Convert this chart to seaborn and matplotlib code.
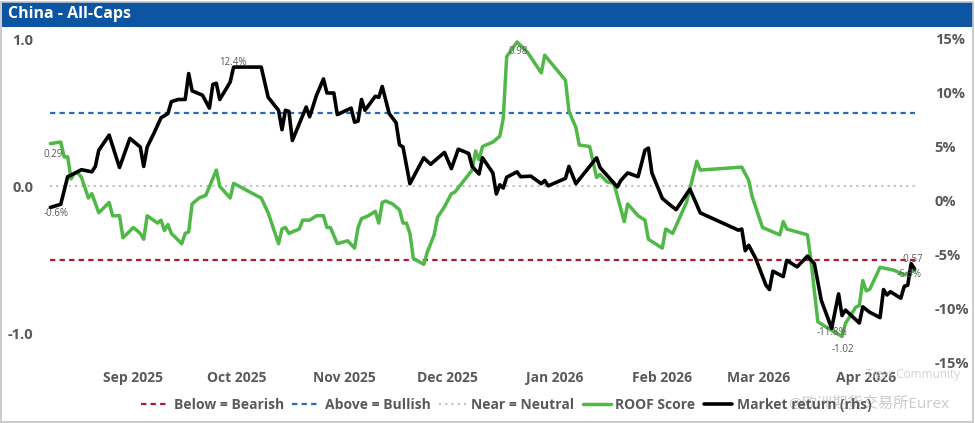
import pandas as pd
import seaborn as sns
import matplotlib.pyplot as plt
import matplotlib.dates as mdates
from matplotlib.patches import Rectangle
from matplotlib.ticker import FuncFormatter

# ROOF score (left axis)
score_dates = ['2025-08-08', '2025-08-11', '2025-08-12', '2025-08-13', '2025-08-14', '2025-08-15',
               '2025-08-16', '2025-08-17', '2025-08-19', '2025-08-20', '2025-08-22', '2025-08-25',
               '2025-08-26', '2025-08-28', '2025-08-29', '2025-09-01', '2025-09-03', '2025-09-04',
               '2025-09-05', '2025-09-08', '2025-09-09', '2025-09-10', '2025-09-11', '2025-09-12',
               '2025-09-15', '2025-09-16', '2025-09-17', '2025-09-18', '2025-09-20', '2025-09-22',
               '2025-09-25', '2025-09-26', '2025-09-29', '2025-09-30', '2025-10-08', '2025-10-10',
               '2025-10-13', '2025-10-14', '2025-10-15', '2025-10-16', '2025-10-19', '2025-10-20',
               '2025-10-22', '2025-10-24', '2025-10-26', '2025-10-27', '2025-10-28', '2025-10-30',
               '2025-11-02', '2025-11-04', '2025-11-05', '2025-11-06', '2025-11-08', '2025-11-10',
               '2025-11-11', '2025-11-12', '2025-11-13', '2025-11-15', '2025-11-17', '2025-11-18',
               '2025-11-19', '2025-11-20', '2025-11-21', '2025-11-24', '2025-11-25', '2025-11-27',
               '2025-11-28', '2025-11-30', '2025-12-02', '2025-12-03', '2025-12-05', '2025-12-08',
               '2025-12-09', '2025-12-10', '2025-12-11', '2025-12-14', '2025-12-16', '2025-12-17',
               '2025-12-18', '2025-12-21', '2025-12-24', '2025-12-28', '2025-12-29', '2026-01-04',
               '2026-01-05', '2026-01-07', '2026-01-08', '2026-01-11', '2026-01-13', '2026-01-14',
               '2026-01-16', '2026-01-18', '2026-01-21', '2026-01-22', '2026-01-25', '2026-01-27',
               '2026-01-28', '2026-02-01', '2026-02-02', '2026-02-04', '2026-02-08', '2026-02-11',
               '2026-02-12', '2026-02-24', '2026-02-26', '2026-02-27', '2026-03-02', '2026-03-07',
               '2026-03-08', '2026-03-09', '2026-03-15', '2026-03-16', '2026-03-18', '2026-03-20',
               '2026-03-25', '2026-03-26', '2026-03-29', '2026-03-30', '2026-03-31', '2026-04-01',
               '2026-04-02', '2026-04-05', '2026-04-09', '2026-04-12', '2026-04-15']
score_values = [0.29, 0.30, 0.20, 0.20, 0.05, 0.09,
                0.09, 0.06, -0.08, -0.05, -0.18, -0.11,
                -0.20, -0.20, -0.35, -0.28, -0.32, -0.36,
                -0.20, -0.25, -0.23, -0.30, -0.26, -0.32,
                -0.39, -0.32, -0.31, -0.12, -0.08, -0.06,
                0.11, 0.00, -0.08, 0.02, -0.08, -0.18,
                -0.39, -0.29, -0.28, -0.32, -0.29, -0.23,
                -0.23, -0.20, -0.20, -0.28, -0.28, -0.39,
                -0.37, -0.42, -0.28, -0.22, -0.20, -0.17,
                -0.25, -0.11, -0.10, -0.12, -0.16, -0.25,
                -0.25, -0.32, -0.49, -0.53, -0.45, -0.33,
                -0.21, -0.14, -0.05, -0.04, 0.02, 0.11,
                0.24, 0.18, 0.27, 0.30, 0.34, 0.46,
                0.88, 0.98, 0.91, 0.77, 0.89, 0.72,
                0.51, 0.40, 0.28, 0.27, 0.06, 0.08,
                0.03, 0.02, -0.24, -0.12, -0.20, -0.23,
                -0.36, -0.42, -0.29, -0.32, -0.11, 0.17,
                0.11, 0.13, 0.04, -0.07, -0.28, -0.33,
                -0.24, -0.29, -0.33, -0.50, -0.92, -0.95,
                -1.02, -0.93, -0.82, -0.81, -0.64, -0.71,
                -0.70, -0.55, -0.57, -0.60, -0.57]

# market return in % (right axis)
market_dates = ['2025-08-08', '2025-08-11', '2025-08-13', '2025-08-14', '2025-08-17', '2025-08-20',
                '2025-08-21', '2025-08-22', '2025-08-25', '2025-08-28', '2025-08-31', '2025-09-03',
                '2025-09-04', '2025-09-05', '2025-09-07', '2025-09-09', '2025-09-11', '2025-09-12',
                '2025-09-14', '2025-09-16', '2025-09-17', '2025-09-18', '2025-09-21', '2025-09-23',
                '2025-09-24', '2025-09-25', '2025-09-26', '2025-09-29', '2025-09-30', '2025-10-08',
                '2025-10-10', '2025-10-13', '2025-10-14', '2025-10-15', '2025-10-16', '2025-10-17',
                '2025-10-21', '2025-10-22', '2025-10-24', '2025-10-26', '2025-10-27', '2025-10-29',
                '2025-10-30', '2025-11-03', '2025-11-04', '2025-11-05', '2025-11-06', '2025-11-07',
                '2025-11-10', '2025-11-11', '2025-11-12', '2025-11-14', '2025-11-16', '2025-11-17',
                '2025-11-18', '2025-11-20', '2025-11-24', '2025-11-26', '2025-11-30', '2025-12-02',
                '2025-12-04', '2025-12-07', '2025-12-08', '2025-12-10', '2025-12-11', '2025-12-14',
                '2025-12-15', '2025-12-16', '2025-12-17', '2025-12-18', '2025-12-21', '2025-12-22',
                '2025-12-25', '2025-12-28', '2025-12-29', '2025-12-30', '2026-01-04', '2026-01-05',
                '2026-01-07', '2026-01-13', '2026-01-14', '2026-01-19', '2026-01-20', '2026-01-22',
                '2026-01-25', '2026-01-27', '2026-01-28', '2026-01-29', '2026-02-01', '2026-02-03',
                '2026-02-05', '2026-02-09', '2026-02-12', '2026-02-23', '2026-02-24', '2026-02-25',
                '2026-02-26', '2026-02-28', '2026-03-03', '2026-03-04', '2026-03-05', '2026-03-08',
                '2026-03-09', '2026-03-12', '2026-03-15', '2026-03-17', '2026-03-19', '2026-03-22',
                '2026-03-24', '2026-03-25', '2026-03-26', '2026-03-30', '2026-03-31', '2026-04-02',
                '2026-04-05', '2026-04-06', '2026-04-07', '2026-04-08', '2026-04-11', '2026-04-12',
                '2026-04-13', '2026-04-14', '2026-04-15']
market_values = [-0.6, -0.3, 2.25, 2.4, 2.9, 2.7,
                 3.2, 4.7, 6.1, 3.1, 5.8, 5.0,
                 3.2, 5.0, 6.3, 7.7, 8.1, 9.2,
                 9.4, 9.4, 11.8, 10.2, 9.8, 8.6,
                 10.8, 10.9, 9.4, 11.0, 12.4, 12.4,
                 9.6, 8.4, 6.6, 8.4, 8.3, 5.6,
                 8.7, 7.8, 9.8, 11.3, 10.0, 10.0,
                 8.0, 8.6, 7.3, 7.4, 9.4, 8.4,
                 9.7, 9.6, 10.6, 8.1, 7.25, 5.2,
                 5.0, 1.6, 4.0, 3.4, 4.5, 3.0,
                 4.8, 4.4, 3.2, 2.5, 4.0, 2.6,
                 0.65, 1.5, 1.2, 2.2, 2.7, 2.25,
                 2.3, 1.6, 1.9, 1.4, 2.1, 3.2,
                 1.6, 4.0, 3.1, 1.3, 1.9, 2.6,
                 2.25, 4.7, 4.9, 2.6, 0.25, -0.3,
                 -0.8, 1.1, -1.1, -2.7, -2.6, -4.6,
                 -4.1, -5.3, -7.8, -8.2, -6.5, -7.0,
                 -5.5, -6.1, -5.1, -5.8, -9.2, -11.8,
                 -8.6, -10.6, -10.1, -11.3, -9.8, -10.3,
                 -10.8, -8.2, -8.7, -8.4, -9.0, -7.9,
                 -7.8, -5.8, -6.3]

title = 'China - All-Caps'
month_ticks = ['2025-09-01', '2025-10-01', '2025-11-01', '2025-12-01',
               '2026-01-01', '2026-02-01', '2026-03-01', '2026-04-01']
left_ticks = [1.0, 0.0, -1.0]
right_ticks = [15, 10, 5, 0, -5, -10, -15]
bearish_level = -0.5
bullish_level = 0.5
neutral_level = 0.0

GREY = '#595959'
GREEN = '#4FB847'
RED = '#B0182E'
BLUE = '#2B6CB5'
LIGHT = '#BFBFBF'

sns.set_style('white')
plt.rcParams['font.family'] = ['Open Sans', 'Noto Sans CJK SC', 'DejaVu Sans']

score_df = pd.DataFrame({'date': pd.to_datetime(score_dates), 'score': score_values})
market_df = pd.DataFrame({'date': pd.to_datetime(market_dates), 'ret': market_values})

fig = plt.figure(figsize=(9.75, 4.23), dpi=100)
ax = fig.add_axes([40 / 975, 60 / 423, 885 / 975, 324 / 423])
ax2 = ax.twinx()

# threshold lines over the data span
span = pd.to_datetime([score_dates[0], score_dates[-1]])
ax.plot(span, [bearish_level] * 2, color=RED, lw=1.6, ls=(0, (2.4, 1.9)), label='Below = Bearish')
ax.plot(span, [bullish_level] * 2, color=BLUE, lw=1.6, ls=(0, (2.4, 1.9)), label='Above = Bullish')
ax.plot(span, [neutral_level] * 2, color=LIGHT, lw=1.5, ls=(0, (1, 2)), label='Near = Neutral')

sns.lineplot(data=score_df, x='date', y='score', ax=ax, color=GREEN, lw=2.5,
             label='ROOF Score', legend=False)
sns.lineplot(data=market_df, x='date', y='ret', ax=ax2, color='black', lw=2.6,
             label='Market return (rhs)', legend=False)

ax.set_ylim(-1.2, 1.0)
ax2.set_ylim(-15, 15)
ax.set_xlim(pd.Timestamp('2025-08-05'), pd.Timestamp('2026-04-18'))
ax.set_xticks(pd.to_datetime(month_ticks))
ax.xaxis.set_major_formatter(mdates.DateFormatter('%b %Y'))
ax.set_yticks(left_ticks)
ax.yaxis.set_major_formatter(FuncFormatter(lambda v, p: f'{v:.1f}'))
ax2.set_yticks(right_ticks)
ax2.yaxis.set_major_formatter(FuncFormatter(lambda v, p: f'{v:.0f}%'))

for a in (ax, ax2):
    a.set_xlabel('')
    a.set_ylabel('')
    for s in a.spines.values():
        s.set_visible(False)
    a.tick_params(length=0)
ax.tick_params(axis='x', labelsize=10, labelcolor=GREY, pad=6)
ax.tick_params(axis='y', labelsize=10.5, labelcolor=GREY, pad=5)
ax2.tick_params(axis='y', labelsize=10.5, labelcolor=GREY, pad=7)
for lbl in ax.get_xticklabels() + ax.get_yticklabels() + ax2.get_yticklabels():
    lbl.set_fontweight('bold')

# data labels
ann = dict(textcoords='offset pixels', fontsize=7, color=GREY, ha='center', va='center')
ax.annotate(f'{score_values[0]:.2f}', (score_df.date[0], score_values[0]), xytext=(3, -11), **ann)
i_max = score_df.score.idxmax()
ax.annotate(f'{score_values[i_max]:.2f}', (score_df.date[i_max], score_values[i_max]), xytext=(1, -10), **ann)
i_min = score_df.score.idxmin()
ax.annotate(f'{score_values[i_min]:.2f}', (score_df.date[i_min], score_values[i_min]), xytext=(1, -13), **ann)
ax.annotate(f'{score_values[-1]:.2f}', (score_df.date.iloc[-1], score_values[-1]), xytext=(-3, 11), **ann)
ax2.annotate(f'{market_values[0]:.1f}%', (market_df.date[0], market_values[0]), xytext=(6, -6), **ann)
j_max = market_df.ret.idxmax()
ax2.annotate(f'{market_values[j_max]:.1f}%', (market_df.date[j_max], market_values[j_max]), xytext=(-1, 5), **ann)
j_min = market_df.ret.idxmin()
ax2.annotate(f'{market_values[j_min]:.1f}%', (market_df.date[j_min], market_values[j_min]), xytext=(0, -4), **ann)
ax2.annotate(f'{market_values[-1]:.1f}%', (market_df.date.iloc[-1], market_values[-1]), xytext=(-6, -5), **ann)

# legend
h1, l1 = ax.get_legend_handles_labels()
h2, l2 = ax2.get_legend_handles_labels()
fig.legend(h1 + h2, l1 + l2, loc='center', bbox_to_anchor=(0.519, 1 - 405 / 423), ncol=5,
           frameon=False, handlelength=2.0, handletextpad=0.35, columnspacing=0.6,
           prop={'weight': 'bold', 'size': 10}, labelcolor=GREY)

# title bar and frame
fig.patches.append(Rectangle((2 / 975, 1 - 27 / 423), 971 / 975, 25 / 423, transform=fig.transFigure,
                             facecolor='#0B55A3', edgecolor='none', zorder=0))
fig.patches.append(Rectangle((1 / 975, 1 / 423), 972 / 975, 420 / 423, transform=fig.transFigure,
                             facecolor='none', edgecolor='#C4C4C4', lw=1.2, zorder=0))
fig.text(8 / 975, 1 - 14 / 423, title, color='white', fontsize=11.5, fontweight='bold',
         ha='left', va='center')

# screenshot watermarks
fig.text(913 / 975, 1 - 374 / 423, 'Tiger Community', color='#C8C8C8', fontsize=8.5,
         ha='center', va='center', alpha=0.8)
fig.text(869 / 975, 1 - 404 / 423, '@欧洲期货交易所Eurex', color='#BDBDBD', fontsize=11,
         ha='center', va='center', alpha=0.8)

plt.savefig('out.png', dpi=100)
